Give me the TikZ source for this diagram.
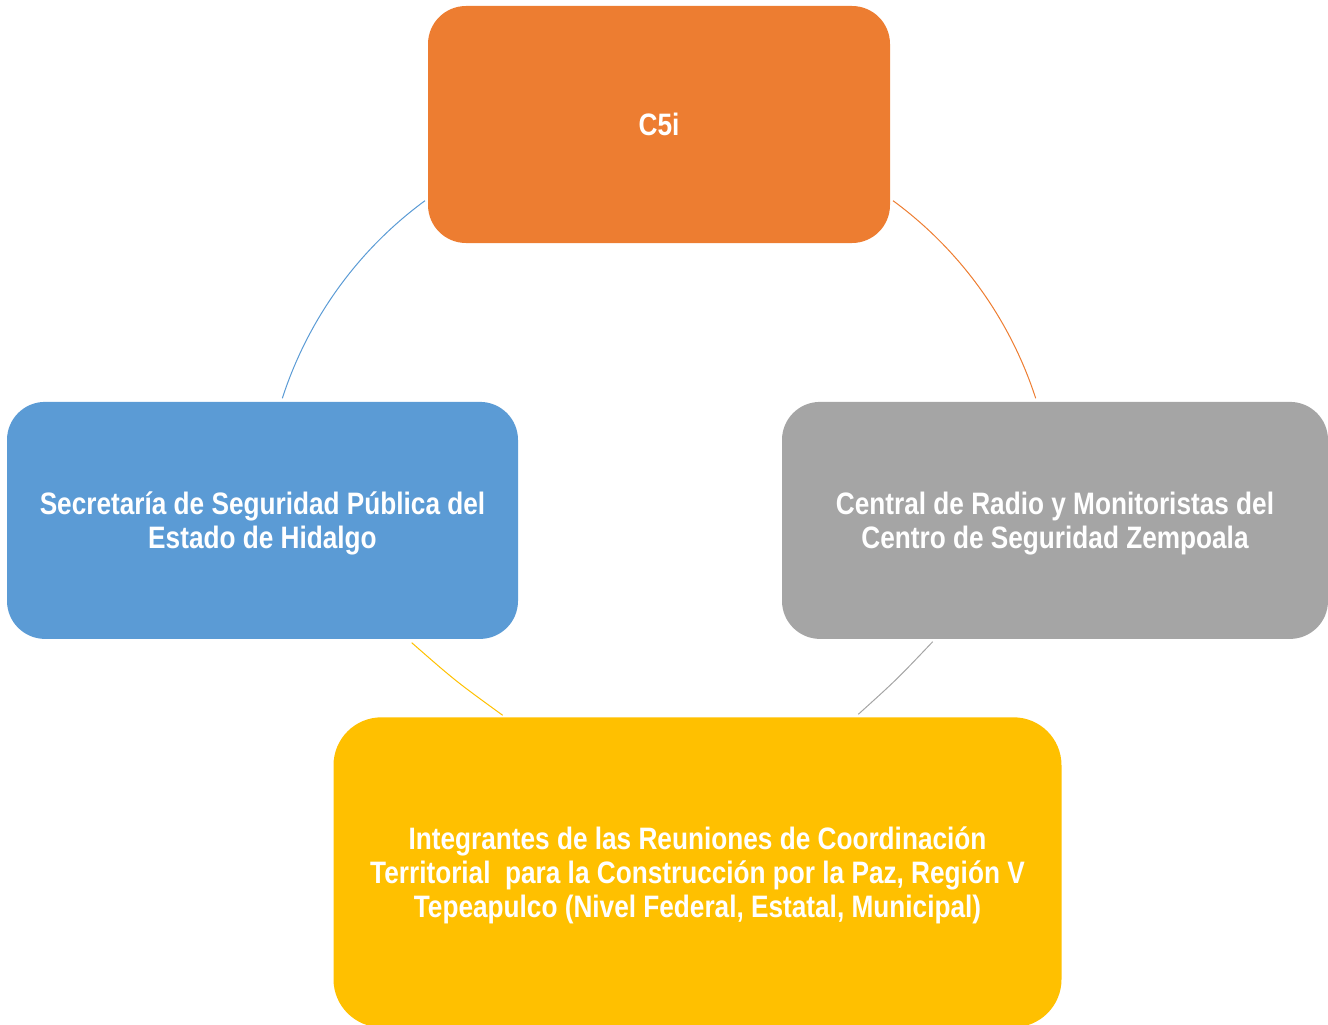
\documentclass[tikz,border=0pt]{standalone}
\usepackage{fontspec}
\setmainfont[FakeStretch=0.845]{Liberation Sans}
\definecolor{cOrange}{HTML}{ED7D31}
\definecolor{cBlue}{HTML}{5B9BD5}
\definecolor{cGray}{HTML}{A5A5A5}
\definecolor{cYellow}{HTML}{FFC000}
\tikzset{
  cyclebox/.style={rounded corners=38pt, inner sep=0pt, align=center, text=white,
    font=\fontsize{31}{34}\selectfont\bfseries},
  cyclearc/.style={line width=1pt}
}
\begin{document}
\begin{tikzpicture}[x=1pt,y=-1pt]
\useasboundingbox (0,0) rectangle (1328,1025);
\node[cyclebox, fill=cOrange, minimum width=462pt, minimum height=237pt] (c5i) at (659,124.5) {C5i};
\node[cyclebox, text depth=0pt, fill=cBlue, minimum width=511pt, minimum height=237pt] (ssp) at (262.5,520.4)
  {Secretaría de Seguridad Pública del\\Estado de Hidalgo};
\node[cyclebox, text depth=0pt, fill=cGray, minimum width=546pt, minimum height=237pt] (crm) at (1055,520.4)
  {Central de Radio y Monitoristas del\\Centro de Seguridad Zempoala};
\node[cyclebox, text depth=0pt, rounded corners=48pt, fill=cYellow, minimum width=728pt, minimum height=310pt] (irc) at (697.5,872.3)
  {Integrantes de las Reuniones de Coordinación\\Territorial\ \ para la Construcción por la Paz, Región V\\Tepeapulco (Nivel Federal, Estatal, Municipal)};
% arc end points
\coordinate (bA) at (425,200.7);
\coordinate (bB) at (282.3,398.3);
\coordinate (oA) at (893,200.7);
\coordinate (oB) at (1035.7,398.3);
\coordinate (yA) at (411.7,642.7);
\coordinate (yB) at (502.7,715.3);
\coordinate (gA) at (932.7,641.7);
\coordinate (gB) at (858.3,714.3);
\draw[cyclearc, cBlue] (bA) .. controls (357.9,249.9) and (308,319.2) .. (bB);
\draw[cyclearc, cOrange] (oA) .. controls (960.1,249.9) and (1010,319.2) .. (oB);
\draw[cyclearc, cYellow] (yA) .. controls (455.6,681.1) .. (yB);
\draw[cyclearc, cGray] (gA) .. controls (896.8,679.5) .. (gB);
\end{tikzpicture}
\end{document}
